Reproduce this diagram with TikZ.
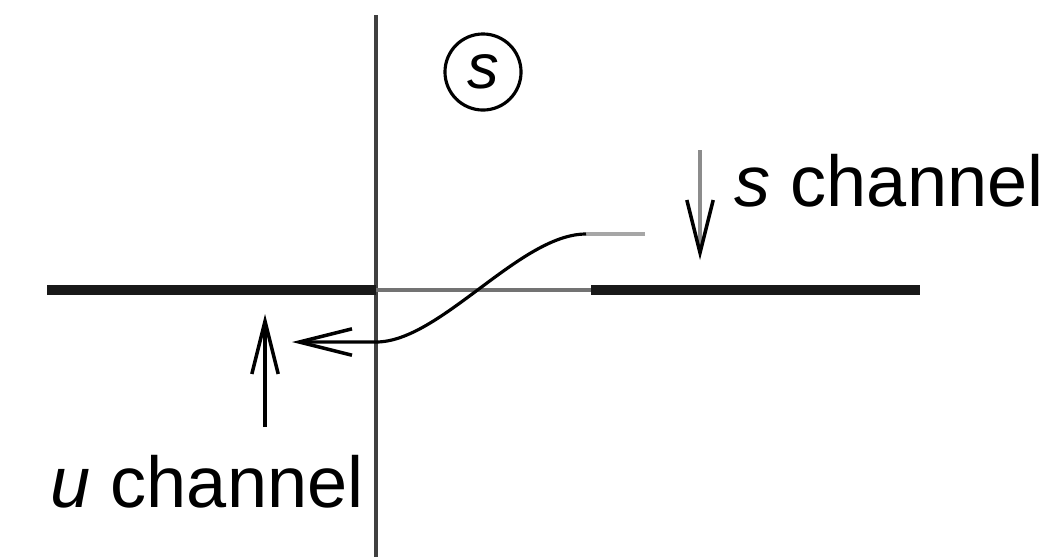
\documentclass[tikz,border=0pt]{standalone}
\usepackage{fontspec}
\setmainfont{Liberation Sans}
\usetikzlibrary{arrows.meta, positioning}

\begin{document}
\begin{tikzpicture}[x=0.01cm, y=-0.01cm,
  lbl/.style={font=\fontsize{20.5}{24}\selectfont, inner sep=0pt},
  cut/.style={line width=2.6pt, black!90},
  axis/.style={line width=0.9pt, black!75},
  tip/.style={-{Straight Barb[length=15pt, width=7.5pt, line width=1pt, black]}}]
\useasboundingbox (0,0) rectangle (1061,557);
\coordinate (vtop) at (376,15);
\coordinate (vbot) at (376,557);
\coordinate (cl) at (47,290);
\coordinate (o) at (376,290);
\coordinate (cr) at (591,290);
\coordinate (ce) at (920,290);
\draw [axis] (vtop) -- (vbot);
\draw [cut] (cl) -- (o);
\draw [line width=1pt, black!55] (o) -- (cr);
\draw [cut] (cr) -- (ce);
\coordinate (pa) at (645,234);
\coordinate (pb) at (586,234);
\coordinate (pc) at (376,342);
\coordinate (pd) at (292,342);
\draw [line width=1.2pt, black!35] (pa) -- (pb);
\draw [tip, line width=0.9pt] (pb) .. controls (520,234) and (440,342) .. (pc) -- (pd);
\coordinate (sa) at (700,150);
\coordinate (sb) at (700,260);
\draw [tip, black!45, line width=1.2pt] (sa) -- (sb);
\coordinate (ua) at (265,427);
\coordinate (ub) at (265,314);
\draw [tip, line width=1pt] (ua) -- (ub);
\node (sreg) at (483,72) [circle, draw, line width=0.9pt, minimum size=0.76cm, inner sep=0pt, font=\fontsize{18}{20}\selectfont] {\textit{s}};
\node (schan) at (734,206) [lbl, anchor=base west] {\textit{s} channel};
\node (uchan) at (50,507) [lbl, anchor=base west] {\textit{u} channel};
\end{tikzpicture}
\end{document}
